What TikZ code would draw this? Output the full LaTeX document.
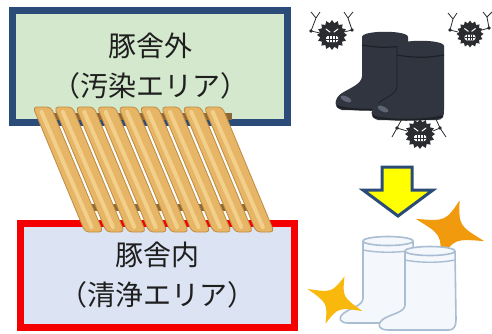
\documentclass[tikz,border=0pt]{standalone}
\usepackage{fontspec}
\usepackage{tikz}
\usetikzlibrary{arrows.meta,positioning}
\newfontfamily\jpfont{Noto Sans CJK JP}
\definecolor{zoneNavy}{HTML}{2B4C78}
\definecolor{zoneGreen}{HTML}{D3E8CC}
\definecolor{zoneRed}{HTML}{F40000}
\definecolor{zoneBlue}{HTML}{DCE3F2}
\definecolor{slatFill}{HTML}{E6B565}
\definecolor{slatLight}{HTML}{F2CF8A}
\definecolor{slatEdge}{HTML}{BF8C42}
\definecolor{slatShadow}{HTML}{8A6838}
\definecolor{bootDark}{HTML}{30353F}
\definecolor{bootEdge}{HTML}{1D2027}
\definecolor{bootShine}{HTML}{5E6574}
\definecolor{germBlack}{HTML}{2A2C30}
\definecolor{cleanFill}{HTML}{F4F7FB}
\definecolor{cleanEdge}{HTML}{A9BDD3}
\definecolor{sparkOrange}{HTML}{F29A0E}
\definecolor{sparkYellow}{HTML}{F8B80C}
\definecolor{arrowYellow}{HTML}{FFFF00}
\tikzset{
  zone/.style={
    line width=7pt,
    minimum width=275pt,
    align=center,
    text=black!88,
    font=\jpfont\fontsize{28}{40}\selectfont
  },
  slat/.style={
    fill=slatFill,
    draw=slatEdge,
    line width=0.8pt,
    rounded corners=4pt
  },
  cleanboot/.style={
    fill=cleanFill,
    draw=cleanEdge,
    line width=1.6pt,
    line join=round
  },
  germ/.pic={
    \fill[germBlack] (0:15) \foreach \a in {1,...,31} { -- ({\a*11.25}:{15-3*mod(\a,2)}) } -- cycle;
    \draw[white, line width=1pt, line cap=round] (-6,-6) -- (-2,-3) (6,-6) -- (2,-3);
    \fill[white, rounded corners=1.5pt] (-6,1) rectangle (6,7);
    \draw[germBlack, line width=0.5pt] (-6,4) -- (6,4) (-3,1) -- (-3,7) (0,1) -- (0,7) (3,1) -- (3,7);
  },
  sparkle/.pic={
    \fill[pic actions] (0,-31) .. controls (7,-7) .. (36,0) .. controls (7,7) .. (0,31)
      .. controls (-7,7) .. (-36,0) .. controls (-7,-7) .. cycle;
  }
}

\begin{document}
\begin{tikzpicture}[x=1pt, y=-1pt]
  \useasboundingbox[fill=white] (0,0) rectangle (492,333);

  \node[zone, draw=zoneNavy, fill=zoneGreen, minimum height=112pt] (outside) at (150,66.5) {豚舎外\\（汚染エリア）};
  \node[zone, draw=zoneRed, fill=zoneBlue, minimum width=274pt, minimum height=104pt] (inside) at (157.5,275.5) {豚舎内\\（清浄エリア）};

  \fill[slatShadow] (42,113) rectangle (232,120);
  \fill[slatShadow] (92,204) rectangle (262,211);
  \foreach \i in {0,...,8} {
    \pgfmathsetmacro\sx{33+21.4*\i}
    \draw[slat] (\sx,107) -- ({\sx+18},107) -- ({\sx+70},232) -- ({\sx+52},232) -- cycle;
    \draw[slatLight, line width=4pt, line cap=round] ({\sx+8.5},112) -- ({\sx+58.5},227);
  }

  % dirty boots
  \draw[germBlack, line width=0.8pt] (320,33) -- (311,31) -- (316,18) (311,12) -- (316,18) -- (320,12)
    (344,32) -- (352,30) -- (348,18) (344,12) -- (348,18) -- (353,12);
  \fill[germBlack] (311,31) circle (1.8) (352,30) circle (1.8);
  \pic at (332,35) {germ};
  \draw[germBlack, line width=0.8pt] (458,32) -- (450,30) -- (453,19) (448,13) -- (453,19) -- (457,13)
    (482,30) -- (489,28) -- (487,17) (483,12) -- (487,17) -- (492,12);
  \fill[germBlack] (450,30) circle (1.8) (489,28) circle (1.8);
  \pic[scale=0.9] at (470,34) {germ};

  \fill[bootDark] (362,37) -- (362,76) .. controls (362,84) and (350,88) .. (342,93)
    .. controls (334,98) and (333,108) .. (342,110) -- (402,110) .. controls (407,110) and (408,106) .. (408,100)
    -- (408,37) .. controls (408,30) and (362,30) .. (362,37) -- cycle;
  \draw[bootEdge, line width=1.2pt] (362,45) .. controls (378,48) and (392,48) .. (408,45);
  \draw[bootEdge, line width=2pt] (337,106) .. controls (345,111) and (395,111) .. (407,106);
  \fill[bootShine, rotate around={-25:(346,99)}] (346,99) ellipse (6 and 2.5);

  \draw[germBlack, line width=0.8pt] (407,131) -- (397,128) -- (403,117) (397,128) -- (392,137)
    (433,131) -- (440,128) -- (435,117) (440,128) -- (446,137);
  \fill[germBlack] (397,128) circle (1.8) (440,128) circle (1.8);

  \fill[bootDark] (397,46) -- (397,86) .. controls (397,94) and (385,98) .. (378,103)
    .. controls (370,108) and (369,118) .. (378,120) -- (437,120) .. controls (443,120) and (444,116) .. (444,110)
    -- (444,46) .. controls (444,39) and (397,39) .. (397,46) -- cycle;
  \draw[bootEdge, line width=0.8pt] (397,46) -- (397,86) .. controls (397,94) and (385,98) .. (378,103);
  \draw[bootEdge, line width=1.2pt] (397,55) .. controls (413,58) and (428,58) .. (444,55);
  \draw[bootEdge, line width=2pt] (373,116) .. controls (381,121) and (430,121) .. (443,116);
  \fill[bootShine, rotate around={-25:(383,109)}] (383,109) ellipse (6 and 2.5);

  \pic at (420,134) {germ};

  \draw[line width=3pt, draw=zoneNavy, fill=arrowYellow, line join=miter]
    (382,167) -- (412,167) -- (412,190) -- (433,190) -- (398,216) -- (363,190) -- (382,190) -- cycle;

  % clean boots
  \pic[fill=sparkOrange, rotate=-18] at (450,230) {sparkle};

  \draw[cleanboot] (363,241) -- (363,298) .. controls (363,306) and (350,308) .. (344,313)
    .. controls (337,318) and (340,323) .. (348,323) -- (408,323) .. controls (413,323) and (414,318) .. (414,312)
    -- (413,241);
  \draw[cleanboot] (388,241) ellipse (25 and 4.5);
  \draw[cleanEdge, line width=1.4pt] (363,250) .. controls (378,253) and (398,253) .. (413,250);

  \draw[cleanboot] (405,251) -- (405,305) .. controls (405,312) and (392,314) .. (385,318)
    .. controls (376,323) and (378,330) .. (388,330) -- (449,330) .. controls (454,330) and (456,326) .. (456,320)
    -- (455,251);
  \draw[cleanboot] (430,251) ellipse (25 and 4.5);
  \draw[cleanEdge, line width=1.4pt] (405,260) .. controls (420,263) and (440,263) .. (455,260);

  \pic[fill=sparkYellow, rotate=-22, scale=0.82] at (335,300) {sparkle};
\end{tikzpicture}
\end{document}
